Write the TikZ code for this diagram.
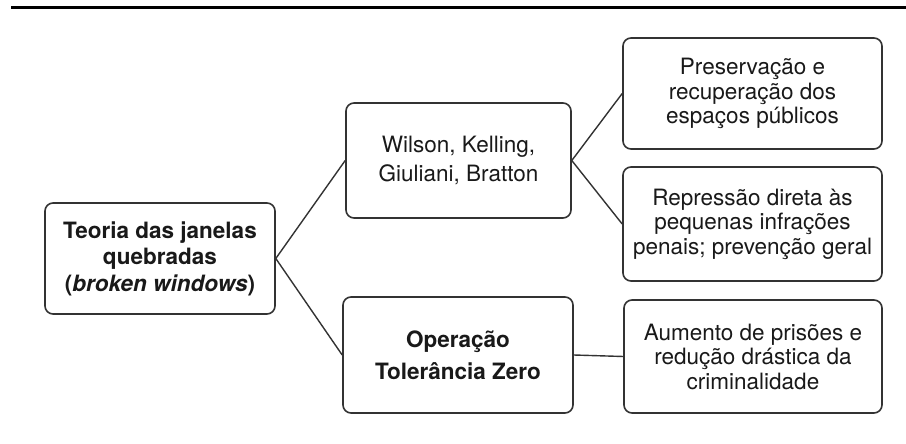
\documentclass[tikz,border=0pt]{standalone}
\usepackage{fontspec}
\setmainfont{TeX Gyre Heros}
\begin{document}
\begin{tikzpicture}[x=1pt,y=-1pt,
  box/.style={draw=black!80, line width=1.6pt, rounded corners=8pt, align=center,
    inner sep=0pt, text=black!90, font=\fontsize{22.5}{24.5}\selectfont},
  conn/.style={draw=black!80, line width=1.4pt}]
\useasboundingbox[fill=white] (0,0) rectangle (906,444);
\fill[black] (11,6) rectangle (906,9.5);
\node[box, minimum width=230pt, minimum height=111pt, font=\fontsize{22.5}{26.5}\selectfont\bfseries]
  (root) at (160,258.5) {Teoria das janelas\\quebradas\\(\textit{broken windows})};
\node[box, minimum width=225pt, minimum height=115pt, font=\fontsize{22.5}{28.5}\selectfont]
  (wil) at (458.5,160.5) {Wilson, Kelling,\\Giuliani, Bratton};
\node[box, minimum width=230pt, minimum height=116pt, font=\fontsize{22.5}{32}\selectfont\bfseries]
  (op) at (458,355) {Operação\\Tolerância Zero};
\node[box, minimum width=259pt, minimum height=111pt]
  (pres) at (752.5,93.5) {Preservação e\\recuperação dos\\espaços públicos};
\node[box, minimum width=259pt, minimum height=114pt]
  (rep) at (752.5,224) {Repressão direta às\\pequenas infrações\\penais; prevenção geral};
\node[box, minimum width=258pt, minimum height=113pt]
  (aum) at (753,356.5) {Aumento de prisões e\\redução drástica da\\criminalidade};
\draw[conn] (root.east) -- (wil.west);
\draw[conn] (root.east) -- (op.west);
\draw[conn] (wil.east) -- (pres.west);
\draw[conn] (wil.east) -- (rep.west);
\draw[conn] (op.east) -- (aum.west);
\end{tikzpicture}
\end{document}
